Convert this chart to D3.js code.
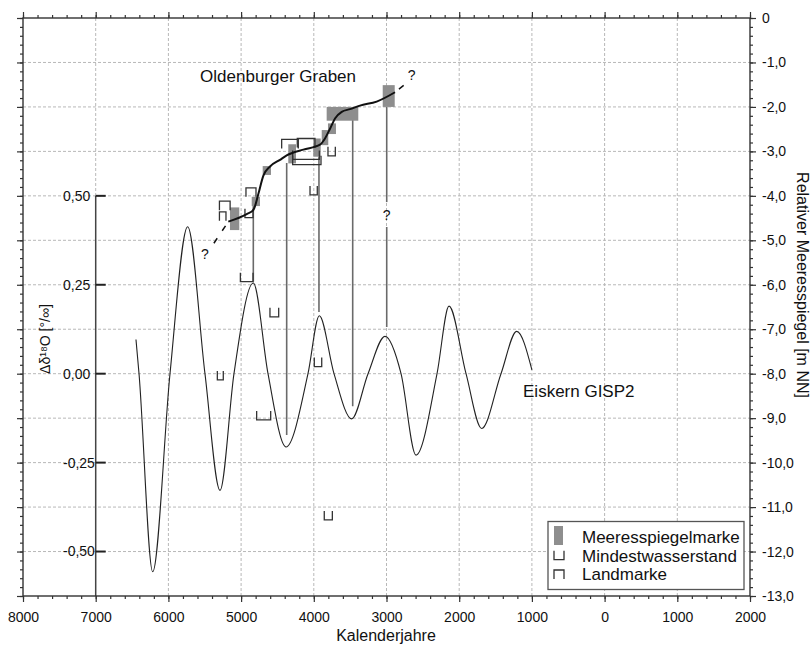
<!DOCTYPE html>
<html><head><meta charset="utf-8">
<script src="https://cdn.jsdelivr.net/npm/d3@7"></script>
<style>
body{margin:0;background:#fff}
text{font-family:"Liberation Sans",Arial,sans-serif;fill:#111}
</style>
</head><body>
<svg id="chart" width="810" height="646"></svg>
<script>
// ---------- DATA ----------
// Years: positive = BC, negative = AD
const xMajorTicks = [8000,7000,6000,5000,4000,3000,2000,1000,0,-1000,-2000];
const rightTicks = [0,-1,-2,-3,-4,-5,-6,-7,-8,-9,-10,-11,-12,-13];
const leftTicks = [0.5,0.25,0,-0.25,-0.5];

// GISP2 ice core curve (delta d18O)
const gispYears  = [6446,6404,6216,5978,5735,5497,5290,5098,4832,4630,4382,4080,3924,3722,3479,3254,3021,2800,2594,2305,2140,1906,1691,1425,1209,1000];
const gispValues = [0.096,0.0,-0.557,0.0,0.413,0.0,-0.328,0.0,0.255,0.0,-0.206,0.0,0.163,0.0,-0.127,0.0,0.105,0.0,-0.229,0.0,0.19,0.0,-0.154,0.0,0.119,0.011];

// Oldenburger Graben sea level curve (m NN)
const ogYears  = [5176,4923,4832,4763,4695,4602,4465,4373,4144,3915,3846,3777,3708,3616,3502,3365,3135,2883];
const ogLevels = [-4.58,-4.41,-4.32,-3.96,-3.55,-3.34,-3.19,-3.09,-2.96,-2.85,-2.71,-2.49,-2.26,-2.11,-2.05,-1.97,-1.88,-1.67];
const ogDashLowYears = [5176,5400], ogDashLowLevels = [-4.58,-5.13];
const ogDashUpYears  = [2883,2704], ogDashUpLevels  = [-1.67,-1.44];

// Meeresspiegelmarken (sea level index points): year range, level range
const smStart  = [5153,4854,4703,4351,4007,3891,3805,3823,3052];
const smEnd    = [5025,4740,4589,4245,3905,3801,3695,3388,2887];
const smTop    = [-4.26,-4.02,-3.33,-2.84,-2.71,-2.52,-2.37,-2.00,-1.51];
const smBottom = [-4.77,-4.23,-3.53,-3.27,-3.12,-2.86,-2.61,-2.31,-2.00];

// Mindestwasserstand (minimum water level)
const mwStart = [5010,4947,4291,4291,3805,4052,4603,5327,4786,3993,3856];
const mwEnd   = [4836,4836,3924,3901,3704,3952,4483,5245,4593,3891,3745];
const mwLevel = [-5.93,-4.49,-3.18,-3.30,-3.10,-3.98,-6.72,-8.14,-9.04,-7.84,-11.29];

// Landmarke (land indicator)
const lmStart = [5298,5298,4933,4442,4227];
const lmEnd   = [5151,5208,4795,4213,3984];
const lmLevel = [-4.12,-4.36,-3.82,-2.73,-2.71];

// Connectors from sea level marks to GISP2 extremes
const conYears  = [4832,4373,3929,3465,2997];
const conTop    = [-4.23,-3.26,-3.13,-2.29,-2.00];
const conBottom = [-5.93,-9.38,-6.61,-8.73,-6.95];
const conGapTop = [null,null,null,null,-4.14];
const conGapBot = [null,null,null,null,-4.70];

// Annotations
const noteText   = ["Oldenburger Graben","Eiskern GISP2","?","?","?"];
const noteYears  = [5564,1122,5497,2653,2997];
const noteLevels = [-1.44,-8.52,-5.42,-1.40,-4.55];
const noteAnchor = ["start","start","middle","middle","middle"];
const noteSize   = [17,17,14,14,14];

const legendLabels = ["Meeresspiegelmarke","Mindestwasserstand","Landmarke"];

// ---------- CHART ----------
const svg = d3.select("#chart");
const L = 23, R = 750, T = 18, B = 596;
const x  = d3.scaleLinear().domain([8000,-2000]).range([L,R]);
const yR = d3.scaleLinear().domain([0,-13]).range([T,B]);
const yL = d3.scaleLinear().domain([1.0,-0.625]).range([T,B]);

const minorX = d3.range(8000,-2001,-200);
const minorY = d3.range(0,-13.001,-0.2).map(v=>+v.toFixed(1));

const comma = s => s.replace(".",",").replace("\u2212","-");

// Gridlines
const grid = svg.append("g").attr("stroke","#b8b8b8").attr("stroke-width",1).attr("stroke-dasharray","3,2");
xMajorTicks.slice(1,-1).forEach(v=>{
  grid.append("line").attr("x1",x(v)).attr("x2",x(v)).attr("y1",T).attr("y2",v===7000?yL(0.5):B);
});
rightTicks.slice(1,-1).forEach(v=>{
  grid.append("line").attr("x1",L).attr("x2",R).attr("y1",yR(v)).attr("y2",yR(v));
});

// Axes
function styleAxis(g){ g.select(".domain").remove(); g.selectAll("line").attr("stroke","#333").attr("stroke-width",1.2); g.selectAll("text").attr("font-size",14).attr("fill","#111").attr("font-family","Liberation Sans, Arial, sans-serif"); }
svg.append("g").attr("transform",`translate(0,${T})`).call(d3.axisTop(x).tickValues(minorX).tickSize(3).tickFormat("")).call(styleAxis);
svg.append("g").attr("transform",`translate(0,${T})`).call(d3.axisTop(x).tickValues(xMajorTicks).tickSize(6).tickFormat("")).call(styleAxis);
svg.append("g").attr("transform",`translate(0,${B})`).call(d3.axisBottom(x).tickValues(minorX).tickSize(3).tickFormat("")).call(styleAxis);
svg.append("g").attr("transform",`translate(0,${B})`).call(d3.axisBottom(x).tickValues(xMajorTicks).tickSize(6).tickPadding(10).tickFormat(d=>Math.abs(d))).call(styleAxis);
svg.append("g").attr("transform",`translate(${L},0)`).call(d3.axisLeft(yR).tickValues(minorY).tickSize(3).tickFormat("")).call(styleAxis);
svg.append("g").attr("transform",`translate(${L},0)`).call(d3.axisLeft(yR).tickValues(rightTicks).tickSize(6).tickFormat("")).call(styleAxis);
svg.append("g").attr("transform",`translate(${R},0)`).call(d3.axisRight(yR).tickValues(minorY).tickSize(3).tickFormat("")).call(styleAxis);
svg.append("g").attr("transform",`translate(${R},0)`).call(d3.axisRight(yR).tickValues(rightTicks).tickSize(6).tickPadding(6).tickFormat(d=>d===0?"0":comma(d3.format(".1f")(d)))).call(styleAxis);

// Inner left axis (delta d18O) at 7000 BC
const ax = x(7000);
const gl = svg.append("g");
gl.append("line").attr("x1",ax).attr("x2",ax).attr("y1",yL(0.5)).attr("y2",B).attr("stroke","#444").attr("stroke-width",1.5);
leftTicks.forEach(v=>{
  gl.append("line").attr("x1",ax).attr("x2",ax+10).attr("y1",yL(v)).attr("y2",yL(v)).attr("stroke","#222").attr("stroke-width",2);
  gl.append("text").attr("x",63).attr("y",yL(v)).attr("dy","0.35em").attr("font-size",14).text(comma(d3.format(".2f")(v)));
});

// Frame
svg.append("rect").attr("x",L).attr("y",T).attr("width",R-L).attr("height",B-T).attr("fill","none").attr("stroke","#333").attr("stroke-width",1.4);

// Axis titles
svg.append("text").attr("x",386).attr("y",641).attr("text-anchor","middle").attr("font-size",16).text("Kalenderjahre");
svg.append("text").attr("transform","translate(797,285) rotate(90)").attr("text-anchor","middle").attr("font-size",16).text("Relativer Meeresspiegel [m NN]");
svg.append("text").attr("transform","translate(50,339) rotate(-90)").attr("text-anchor","middle").attr("font-size",14).text("Δδ¹⁸O [°/∞]");

// Legend box
const lg = svg.append("g");
lg.append("rect").attr("x",548).attr("y",521.5).attr("width",196).attr("height",68).attr("fill","#fff").attr("stroke","#555").attr("stroke-width",1.3);

// GISP2 curve
const gispData = gispYears.map((yv,i)=>({year:yv,val:gispValues[i]}));
svg.append("path").datum(gispData)
  .attr("d", d3.line().x(d=>x(d.year)).y(d=>yL(d.val)).curve(d3.curveMonotoneX))
  .attr("fill","none").attr("stroke","#222").attr("stroke-width",1.1);

// Connectors
conYears.forEach((yv,i)=>{
  const g = svg.append("g").attr("stroke","#6a6a6a").attr("stroke-width",1.6);
  if(conGapTop[i]===null){
    g.append("line").attr("x1",x(yv)).attr("x2",x(yv)).attr("y1",yR(conTop[i])).attr("y2",yR(conBottom[i]));
  } else {
    g.append("line").attr("x1",x(yv)).attr("x2",x(yv)).attr("y1",yR(conTop[i])).attr("y2",yR(conGapTop[i]));
    g.append("line").attr("x1",x(yv)).attr("x2",x(yv)).attr("y1",yR(conGapBot[i])).attr("y2",yR(conBottom[i]));
  }
});

// Sea level marks
const markFill = "#8e8e8e";
smStart.forEach((s,i)=>{
  svg.append("rect").attr("x",x(s)).attr("y",yR(smTop[i]))
    .attr("width",x(smEnd[i])-x(s)).attr("height",yR(smBottom[i])-yR(smTop[i]))
    .attr("fill",markFill);
});

// Bracket symbols
const LEG = 9;
function cupPath(x1,x2,y){ return `M${x1},${y-LEG}L${x1},${y}L${x2},${y}L${x2},${y-LEG}`; }
function capPath(x1,x2,y){ return `M${x1},${y+LEG}L${x1},${y}L${x2},${y}L${x2},${y+LEG}`; }
mwStart.forEach((s,i)=>{
  svg.append("path").attr("d",cupPath(x(s),x(mwEnd[i]),yR(mwLevel[i]))).attr("fill","none").attr("stroke","#333").attr("stroke-width",1.3);
});
lmStart.forEach((s,i)=>{
  svg.append("path").attr("d",capPath(x(s),x(lmEnd[i]),yR(lmLevel[i]))).attr("fill","none").attr("stroke","#333").attr("stroke-width",1.3);
});

// Oldenburger Graben curve
const ogData = ogYears.map((yv,i)=>({year:yv,lev:ogLevels[i]}));
svg.append("path").datum(ogData)
  .attr("d", d3.line().x(d=>x(d.year)).y(d=>yR(d.lev)).curve(d3.curveMonotoneX))
  .attr("fill","none").attr("stroke","#111").attr("stroke-width",2);
[[ogDashLowYears,ogDashLowLevels],[ogDashUpYears,ogDashUpLevels]].forEach(([ys,ls])=>{
  svg.append("path").datum(ys.map((yv,i)=>({year:yv,lev:ls[i]})))
    .attr("d", d3.line().x(d=>x(d.year)).y(d=>yR(d.lev)))
    .attr("fill","none").attr("stroke","#111").attr("stroke-width",1.5).attr("stroke-dasharray","0,5,6,4");
});

// Annotations
noteText.forEach((t,i)=>{
  svg.append("text").attr("x",x(noteYears[i])).attr("y",yR(noteLevels[i]))
    .attr("text-anchor",noteAnchor[i]).attr("font-size",noteSize[i]).text(t);
});

// Legend contents
const lx = 554, lrow = [537,555.7,574];
lg.append("rect").attr("x",lx).attr("y",526).attr("width",9).attr("height",19).attr("fill",markFill);
lg.append("path").attr("d",`M${lx},${lrow[1]-5}L${lx},${lrow[1]+4}L${lx+10},${lrow[1]+4}L${lx+10},${lrow[1]-5}`).attr("fill","none").attr("stroke","#333").attr("stroke-width",1.3);
lg.append("path").attr("d",`M${lx},${lrow[2]+5}L${lx},${lrow[2]-4}L${lx+10},${lrow[2]-4}L${lx+10},${lrow[2]+5}`).attr("fill","none").attr("stroke","#333").attr("stroke-width",1.3);
legendLabels.forEach((t,i)=>{
  lg.append("text").attr("x",582).attr("y",lrow[i]).attr("dy","0.35em").attr("font-size",17).text(t);
});
</script>
</body></html>
